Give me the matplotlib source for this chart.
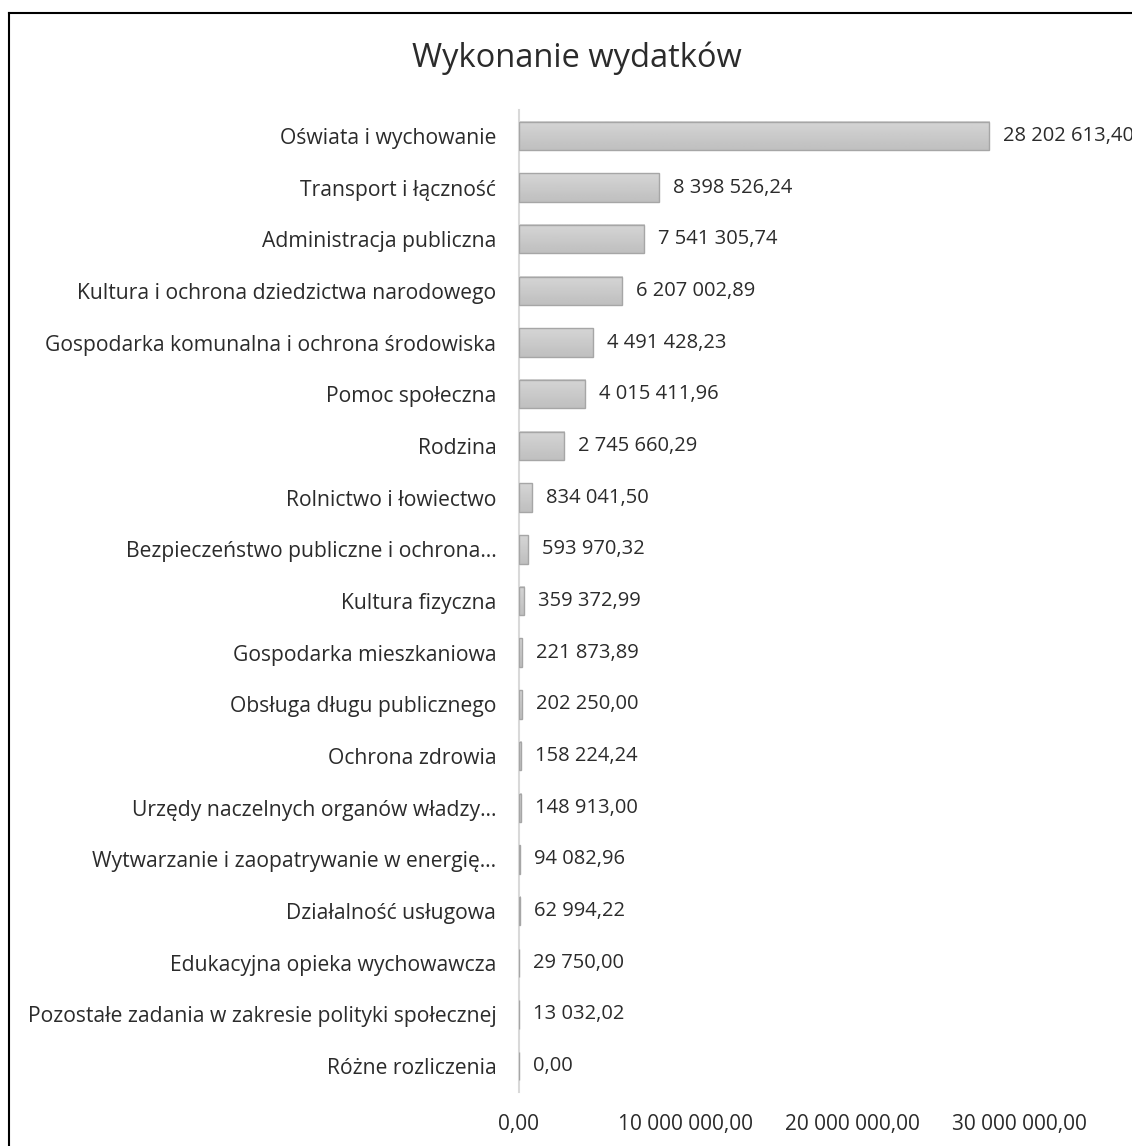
import numpy as np
import matplotlib
matplotlib.use("Agg")
import matplotlib.pyplot as plt
from matplotlib.lines import Line2D

plt.rcParams['font.family'] = ['Open Sans', 'DejaVu Sans']

categories = [
    "Oświata i wychowanie",
    "Transport i łączność",
    "Administracja publiczna",
    "Kultura i ochrona dziedzictwa narodowego",
    "Gospodarka komunalna i ochrona środowiska",
    "Pomoc społeczna",
    "Rodzina",
    "Rolnictwo i łowiectwo",
    "Bezpieczeństwo publiczne i ochrona…",
    "Kultura fizyczna",
    "Gospodarka mieszkaniowa",
    "Obsługa długu publicznego",
    "Ochrona zdrowia",
    "Urzędy naczelnych organów władzy…",
    "Wytwarzanie i zaopatrywanie w energię…",
    "Działalność usługowa",
    "Edukacyjna opieka wychowawcza",
    "Pozostałe zadania w zakresie polityki społecznej",
    "Różne rozliczenia",
]
values = [
    28202613.40, 8398526.24, 7541305.74, 6207002.89, 4491428.23,
    4015411.96, 2745660.29, 834041.50, 593970.32, 359372.99,
    221873.89, 202250.00, 158224.24, 148913.00, 94082.96,
    62994.22, 29750.00, 13032.02, 0.00,
]
xticks = [0, 10_000_000, 20_000_000, 30_000_000]
title = "Wykonanie wydatków"

TXT = "#2b2b2b"


def pl_fmt(v):
    return f"{v:,.2f}".replace(",", " ").replace(".", ",")


W, H = 1132, 1146
fig = plt.figure(figsize=(W / 100, H / 100), dpi=100)
ax = fig.add_axes([518.5 / W, 54 / H, 500.5 / W, 982 / H])

h = 0.55
grad = np.linspace(0.835, 0.75, 32).reshape(-1, 1)
ypos = np.arange(len(categories))
for y, v in zip(ypos, values):
    if v > 0:
        ax.imshow(grad, cmap="gray", vmin=0, vmax=1, aspect="auto",
                  extent=(0, v, y + h / 2, y - h / 2), zorder=2,
                  interpolation="bilinear")
    ax.barh(y, v, height=h, facecolor="none", edgecolor="#a6a6a6",
            linewidth=1.0, zorder=3)
    ax.annotate(pl_fmt(v), (v, y), xytext=(14, 0), textcoords="offset pixels",
                ha="left", va="center", fontsize=14.5, color=TXT,
                clip_on=False, annotation_clip=False)

ax.set_xlim(0, 30_000_000)
ax.set_ylim(len(categories) - 0.5, -0.5)
ax.set_yticks(ypos)
ax.set_yticklabels(categories, fontsize=15.2)
ax.set_xticks(xticks)
ax.set_xticklabels([pl_fmt(t) for t in xticks], fontsize=15)
ax.tick_params(axis="both", length=0, labelcolor=TXT)
ax.tick_params(axis="y", pad=16)
ax.tick_params(axis="x", pad=16)
for s in ["top", "right", "bottom"]:
    ax.spines[s].set_visible(False)
ax.spines["left"].set_color("#d9d9d9")
ax.spines["left"].set_linewidth(1.5)
ax.patch.set_alpha(0)

fig.text(577 / W, 1 - 58 / H, title, ha="center", va="center",
         fontsize=23.5, color=TXT)

# chart frame (cut at right and bottom edges)
fig.add_artist(Line2D([9 / W, 9 / W], [0, 1 - 13 / H], color="black", lw=1.5))
fig.add_artist(Line2D([9 / W, 1], [1 - 13 / H, 1 - 13 / H], color="black", lw=1.5))

fig.savefig("out.png", dpi=100)
